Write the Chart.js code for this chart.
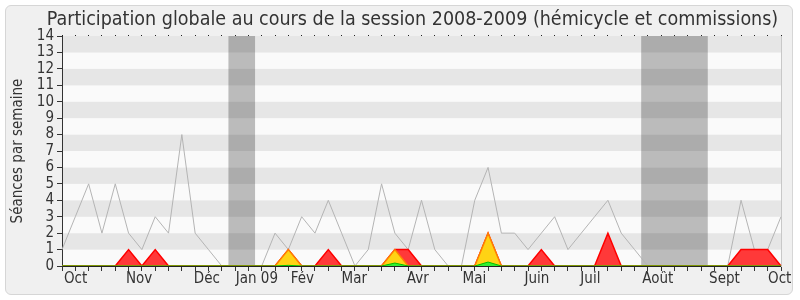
<!DOCTYPE html>
<html>
<head>
<meta charset="utf-8">
<script src="https://cdn.jsdelivr.net/npm/chart.js@4.4.0/dist/chart.umd.min.js"></script>
<style>
html, body { margin: 0; padding: 0; background: #fff; }
#box { position: absolute; left: 5px; top: 5px; width: 786px; height: 288px; background: #f0f0f0; border: 1px solid #d6d6d6; border-radius: 6px; }
#wrap { position: absolute; left: 0; top: 0; width: 800px; height: 300px; }
</style>
</head>
<body>
<div id="box"></div>
<div id="wrap"><canvas id="chart"></canvas></div>
<script>
// seances par semaine, session oct 2008 - oct 2009 (55 semaines)
const seances = [1,3,5,2,5,2,1,3,2,8, 2,1,0,0,0,0,2,1,3,2, 4,2,0,1,5,2,1,4,1,0, 0,4,6,2,2,1,2,3,1,2, 3,4,2,1,0,0,0,0,0,0, 0,4,1,1,3];
const presences = [0,0,0,0,0,1,0,1,0,0, 0,0,0,0,0,0,0,1,0,0, 1,0,0,0,0,1,1,0,0,0, 0,0,2,0,0,0,1,0,0,0, 0,2,0,0,0,0,0,0,0,0, 0,1,1,1,0];
const participations = [0,0,0,0,0,0,0,0,0,0, 0,0,0,0,0,0,0,1,0,0, 0,0,0,0,0,1,0,0,0,0, 0,0,2,0,0,0,0,0,0,0, 0,0,0,0,0,0,0,0,0,0, 0,0,0,0,0];
const interventions = [0,0,0,0,0,0,0,0,0,0, 0,0,0,0,0,0,0,0.04,0,0, 0,0,0,0,0,0.18,0,0,0,0, 0,0,0.24,0,0,0,0,0,0,0, 0,0,0,0,0,0,0,0,0,0, 0,0,0,0,0];
const vacances = [0,0,0,0,0,0,0,0,0,0, 0,0,0,14,14,0,0,0,0,0, 0,0,0,0,0,0,0,0,0,0, 0,0,0,0,0,0,0,0,0,0, 0,0,0,0,14,14,14,14,14,0, 0,0,0,0,0];
const semaines = seances.map((_, i) => 'S' + (i + 1));

// mois: position (en semaines) et libelle
const moisPos = [0.15, 4.8, 9.9, 13.05, 17.18, 21.0, 25.9, 30.08, 34.73, 38.93, 43.58, 48.6, 53.03];
const moisLabels = ['Oct', 'Nov', 'Déc', 'Jan 09', 'Fév', 'Mar', 'Avr', 'Mai', 'Juin', 'Juil', 'Août', 'Sept', 'Oct'];

Chart.defaults.font.family = '"DejaVu Sans Condensed", "DejaVu Sans", sans-serif';
Chart.defaults.color = '#333';

const stripes = {
    id: 'stripes',
    beforeDraw(chart) {
        const {ctx, chartArea: a, scales: {y}} = chart;
        ctx.save();
        for (let v = 0; v < 14; v++) {
            ctx.fillStyle = v % 2 ? '#e6e6e6' : '#fafafa';
            const top = y.getPixelForValue(v + 1);
            const bot = y.getPixelForValue(v);
            ctx.fillRect(a.left, top, a.right - a.left, bot - top);
        }
        ctx.restore();
    }
};

const ctx = document.getElementById('chart');
new Chart(ctx, {
    type: 'line',
    data: {
        labels: semaines,
        datasets: [{
            data: vacances,
            backgroundColor: 'rgba(0,0,0,0.25)',
            borderWidth: 0,
            stepped: 'middle',
            pointRadius: 0,
            fill: 'origin',
            xAxisID: 'x',
            order: 5
        }, {
            data: seances,
            borderColor: '#b4b4b4',
            borderWidth: 1,
            pointRadius: 0,
            tension: 0,
            fill: false,
            xAxisID: 'x',
            order: 4
        }, {
            data: presences,
            borderColor: '#ff0000',
            backgroundColor: 'rgba(255,40,40,0.92)',
            borderWidth: 1.5,
            pointRadius: 0,
            tension: 0,
            fill: 'origin',
            xAxisID: 'x',
            order: 3
        }, {
            data: participations,
            borderColor: '#ff8000',
            backgroundColor: '#ffd314',
            borderWidth: 1.5,
            pointRadius: 0,
            tension: 0,
            fill: 'origin',
            xAxisID: 'x',
            order: 2
        }, {
            data: interventions,
            borderColor: '#00c000',
            backgroundColor: '#33ee33',
            borderWidth: 1,
            pointRadius: 0,
            tension: 0,
            fill: 'origin',
            xAxisID: 'x',
            order: 1
        }]
    },
    options: {
        responsive: true,
        maintainAspectRatio: false,
        animation: false,
        layout: { padding: { left: 25, right: 0, top: 0, bottom: 0 } },
        scales: {
            x: {
                type: 'category',
                offset: false,
                grid: { drawOnChartArea: false, offset: false, tickLength: 5, color: '#333' },
                border: { color: '#222' },
                ticks: { display: false, autoSkip: false },
                afterFit: s => { s.height = 5; s.paddingLeft = 0; s.paddingRight = 0; }
            },
            xm: {
                type: 'linear',
                position: 'bottom',
                min: 0,
                max: 54,
                bounds: 'data',
                grid: { display: false },
                border: { display: false },
                afterBuildTicks: axis => { axis.ticks = moisPos.map(v => ({ value: v })); },
                afterFit: s => { s.height = 29; s.paddingLeft = 0; s.paddingRight = 0; },
                ticks: {
                    align: 'start',
                    padding: -9,
                    maxRotation: 0,
                    font: { size: 15 },
                    callback: (v, i) => moisLabels[i]
                }
            },
            xt: {
                type: 'category',
                position: 'top',
                offset: false,
                grid: { drawOnChartArea: false, offset: false, tickLength: 1, color: '#222' },
                border: { display: false },
                ticks: { display: false, autoSkip: false },
                afterFit: s => { s.height = 1; s.paddingLeft = 0; s.paddingRight = 0; }
            },
            y: {
                min: 0,
                max: 14,
                ticks: { stepSize: 1, padding: 3, autoSkip: false, font: { size: 15 } },
                grid: { drawOnChartArea: false, tickLength: 5, color: '#333' },
                border: { color: '#333' },
                title: {
                    display: true,
                    text: 'Séances par semaine',
                    font: { size: 15 },
                    padding: { top: -16, bottom: 10 }
                },
                afterFit: s => { s.width = 37; s.paddingTop = 0; s.paddingBottom = 0; }
            },
            yr: {
                position: 'right',
                ticks: { display: false },
                grid: { display: false },
                border: { color: '#c8c8c8' },
                afterFit: s => { s.width = 19; s.paddingTop = 0; s.paddingBottom = 0; }
            }
        },
        plugins: {
            legend: { display: false },
            tooltip: { enabled: false },
            title: {
                display: true,
                text: 'Participation globale au cours de la session 2008-2009 (hémicycle et commissions)',
                font: { size: 19.5, weight: 'normal' },
                color: '#333',
                padding: { top: 8.5, bottom: 3.1 }
            }
        }
    },
    plugins: [stripes]
});
</script>
</body>
</html>
